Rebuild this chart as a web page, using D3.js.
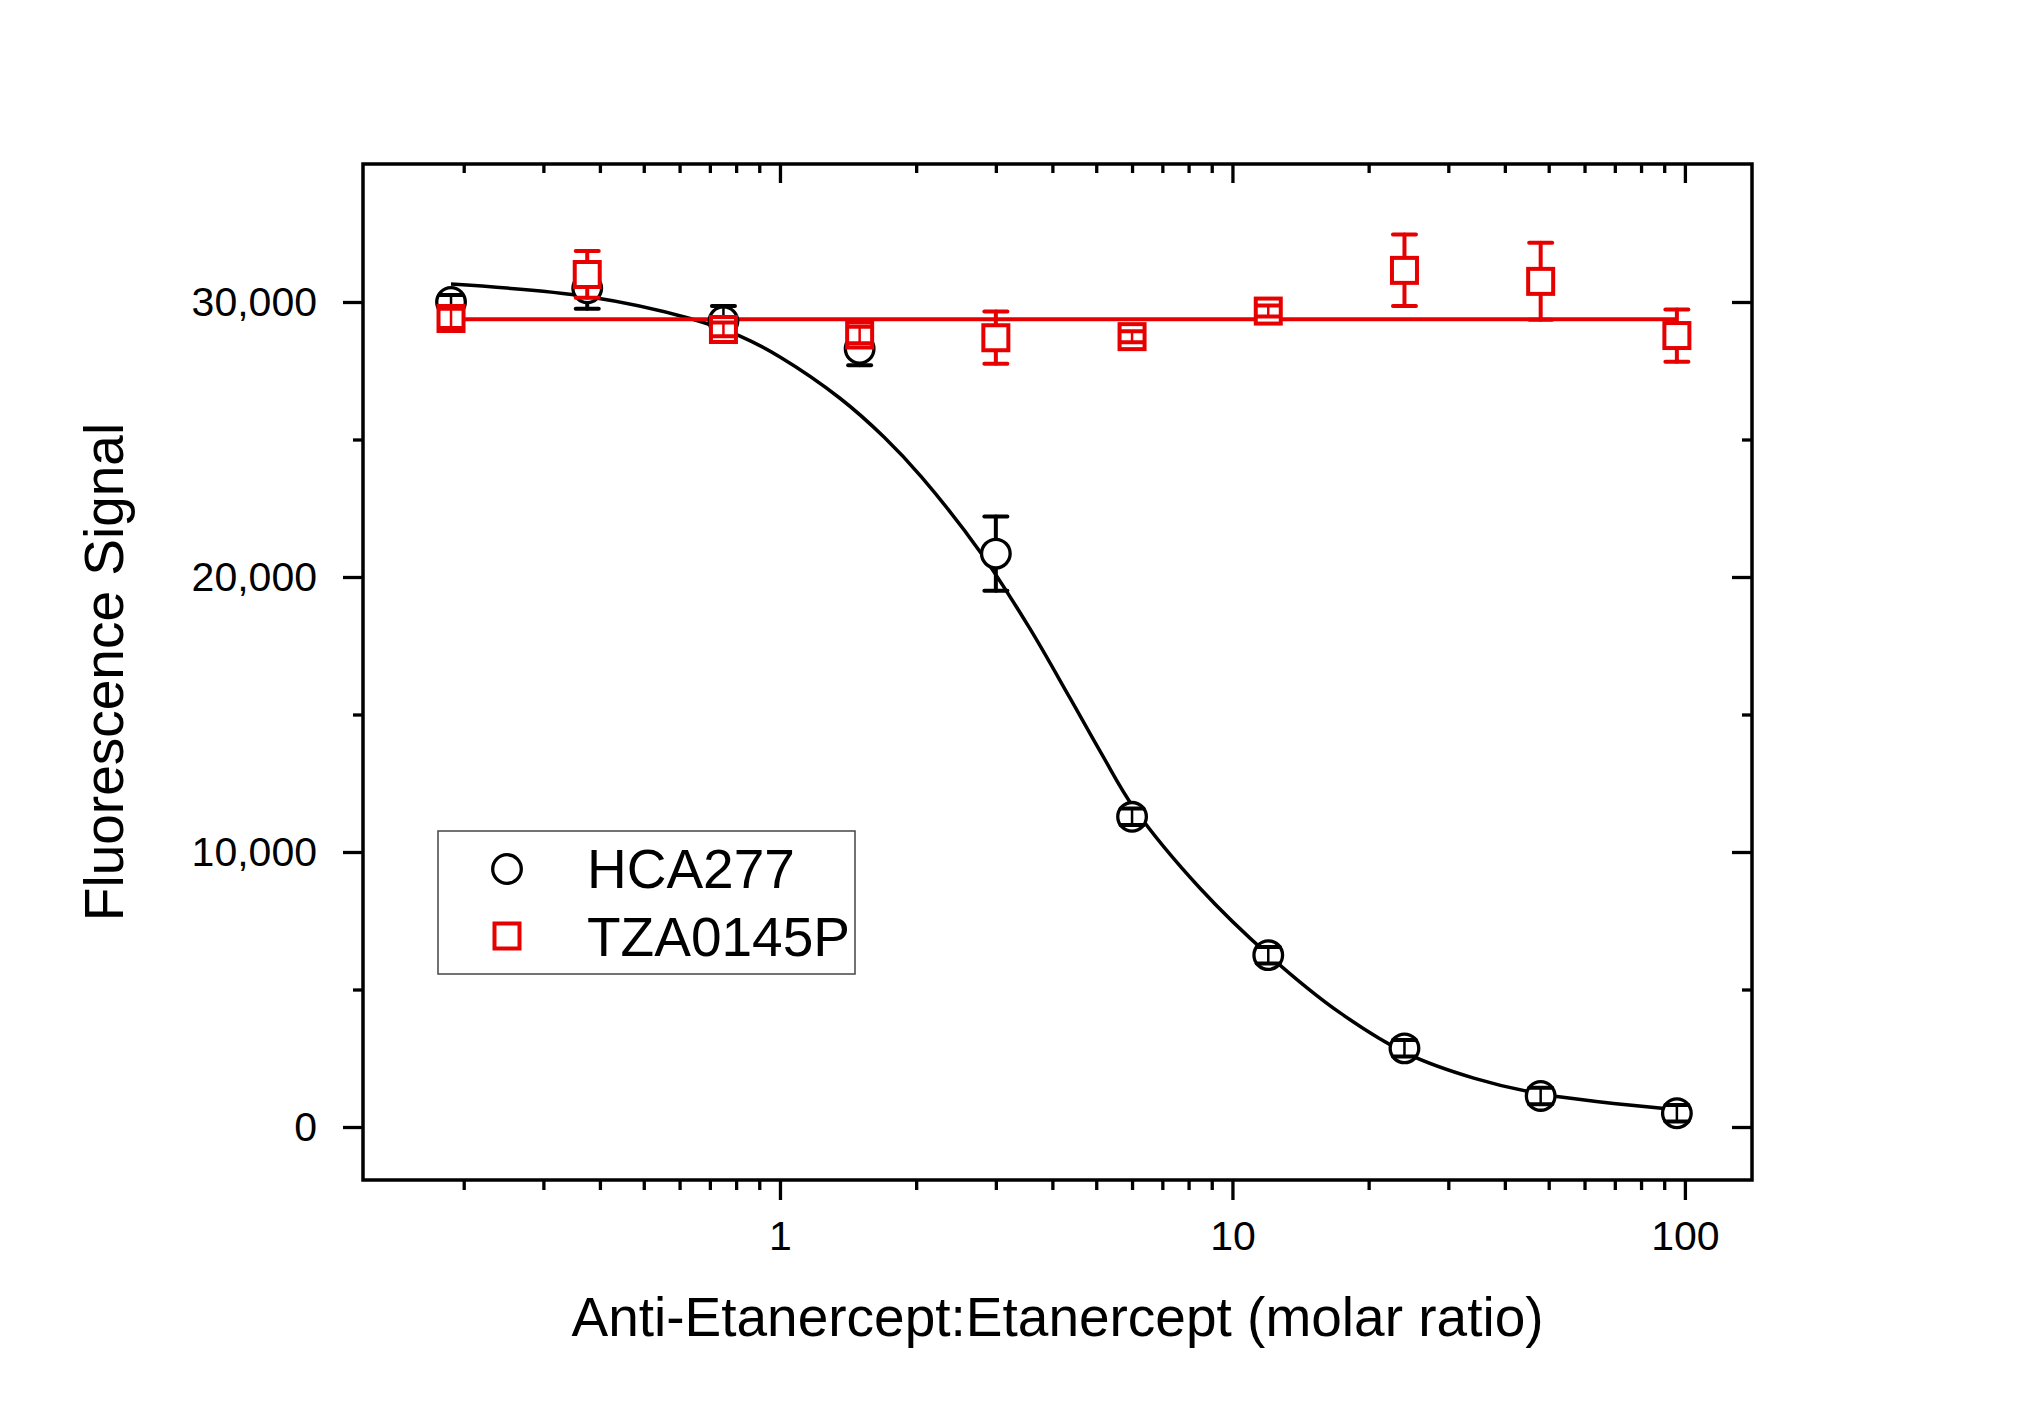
<!DOCTYPE html>
<html>
<head>
<meta charset="utf-8">
<script src="https://cdn.jsdelivr.net/npm/d3@7"></script>
<style>
  body { margin: 0; background: #fff; }
  text { font-family: "Liberation Sans", Arial, sans-serif; fill: #000; }
</style>
</head>
<body>
<div id="chart-area"></div>
<script>
// molar ratios (2-fold dilution series)
var ratios = [0.1875, 0.375, 0.75, 1.5, 3, 6, 12, 24, 48, 96];

// HCA277 (black circles)
var hcaMean = [30000, 30500, 29300, 28300, 20850, 11280, 6250, 2860, 1130, 500];
var hcaErr  = [250, 750, 550, 600, 1350, 300, 300, 300, 300, 300];

// TZA0145P (red squares)
var tzaMean = [29400, 31000, 29000, 28800, 28700, 28740, 29670, 31150, 30750, 28780];
var tzaErr  = [350, 850, 250, 300, 950, 200, 200, 1300, 1400, 950];

// fitted curve for HCA277
var fitX = [0.1875, 0.375, 0.633, 0.816, 1.0, 1.357, 1.7, 2.056, 2.791, 3.568, 4.37, 5.15, 6.06, 8.47, 12.1, 17.3, 24.4, 34.3, 49.0, 96];
var fitY = [30650, 30200, 29400, 28760, 28000, 26500, 25080, 23630, 20840, 18120, 15610, 13540, 11600, 8690, 6210, 4150, 2660, 1770, 1180, 630];

// flat fit line for TZA0145P
var tzaFitLevel = 29370;

var yMajor = [0, 10000, 20000, 30000];
var yMinor = [5000, 15000, 25000];
var xMajor = [1, 10, 100];
var xMinor = [0.2, 0.3, 0.4, 0.5, 0.6, 0.7, 0.8, 0.9, 2, 3, 4, 5, 6, 7, 8, 9, 20, 30, 40, 50, 60, 70, 80, 90];

var seriesNames = ["HCA277", "TZA0145P"];

var margin = {top: 164, right: 282, bottom: 237, left: 363};
var width = 2034 - margin.left - margin.right;
var height = 1417 - margin.top - margin.bottom;
var red = "#e60000";

var svg = d3.select("#chart-area")
    .append("svg")
    .attr("width", 2034)
    .attr("height", 1417);

var g = svg.append("g")
    .attr("transform", "translate(" + margin.left + ", " + margin.top + ")");

var x = d3.scaleLog()
    .domain([0.1198, 140.7])
    .range([0, width]);

var y = d3.scaleLinear()
    .domain([-1927, 35018])
    .range([height, 0]);

function styleAxis(sel) {
    sel.select(".domain").remove();
    sel.selectAll("line").attr("stroke", "#000").attr("stroke-width", 3.3);
    sel.selectAll("text")
        .attr("font-size", "41px")
        .attr("font-family", "Liberation Sans, Arial, sans-serif")
        .style("fill", "#000");
}

// left axis (outward ticks, labelled)
g.append("g")
    .call(d3.axisLeft(y).tickValues(yMajor).tickSize(20).tickPadding(26).tickFormat(d3.format(",")))
    .call(styleAxis);
g.append("g")
    .call(d3.axisLeft(y).tickValues(yMinor).tickSize(10).tickFormat(""))
    .call(styleAxis);

// right axis (inward ticks)
g.append("g")
    .attr("transform", "translate(" + width + ",0)")
    .call(d3.axisRight(y).tickValues(yMajor).tickSize(-20).tickFormat(""))
    .call(styleAxis);
g.append("g")
    .attr("transform", "translate(" + width + ",0)")
    .call(d3.axisRight(y).tickValues(yMinor).tickSize(-10).tickFormat(""))
    .call(styleAxis);

// bottom axis (outward ticks, labelled)
g.append("g")
    .attr("transform", "translate(0, " + height + ")")
    .call(d3.axisBottom(x).tickValues(xMajor).tickSize(20).tickPadding(21).tickFormat(d3.format("d")))
    .call(styleAxis);
g.append("g")
    .attr("transform", "translate(0, " + height + ")")
    .call(d3.axisBottom(x).tickValues(xMinor).tickSize(10).tickFormat(""))
    .call(styleAxis);

// top axis (inward ticks)
g.append("g")
    .call(d3.axisTop(x).tickValues(xMajor).tickSize(-19).tickFormat(""))
    .call(styleAxis);
g.append("g")
    .call(d3.axisTop(x).tickValues(xMinor).tickSize(-9).tickFormat(""))
    .call(styleAxis);

// frame
g.append("rect")
    .attr("width", width)
    .attr("height", height)
    .attr("fill", "none")
    .attr("stroke", "#000")
    .attr("stroke-width", 3.5);

// axis titles
g.append("text")
    .attr("x", width / 2)
    .attr("y", 1336 - margin.top)
    .attr("font-size", "55px")
    .attr("text-anchor", "middle")
    .text("Anti-Etanercept:Etanercept (molar ratio)");

g.append("text")
    .attr("x", -(height / 2))
    .attr("y", 123 - margin.left)
    .attr("font-size", "55px")
    .attr("text-anchor", "middle")
    .attr("transform", "rotate(-90)")
    .text("Fluorescence Signal");

// fit lines
var fitData = fitX.map((d, i) => ({x: d, y: fitY[i]}));
var line = d3.line()
    .x((d) => x(d.x))
    .y((d) => y(d.y))
    .curve(d3.curveCatmullRom.alpha(0.5));

g.append("path")
    .datum(fitData)
    .attr("d", line)
    .attr("fill", "none")
    .attr("stroke", "#000")
    .attr("stroke-width", 3.5);

g.append("path")
    .datum([{x: ratios[0], y: tzaFitLevel}, {x: ratios[ratios.length - 1], y: tzaFitLevel}])
    .attr("d", line)
    .attr("fill", "none")
    .attr("stroke", red)
    .attr("stroke-width", 4);

var rCircle = 14.3;
var halfSquare = 12.5;
var capHalf = 11.5;

function drawSeries(means, errs, color, shape, edge, sw) {
    var data = ratios.map((d, i) => ({x: d, y: means[i], e: errs[i]}));
    var grp = g.append("g");

    // markers
    if (shape === "circle") {
        grp.selectAll("circle").data(data).enter().append("circle")
            .attr("cx", (d) => x(d.x))
            .attr("cy", (d) => y(d.y))
            .attr("r", rCircle)
            .attr("fill", "#fff")
            .attr("stroke", color)
            .attr("stroke-width", sw);
    } else {
        grp.selectAll("rect").data(data).enter().append("rect")
            .attr("x", (d) => x(d.x) - halfSquare)
            .attr("y", (d) => y(d.y) - halfSquare)
            .attr("width", halfSquare * 2)
            .attr("height", halfSquare * 2)
            .attr("fill", "#fff")
            .attr("stroke", color)
            .attr("stroke-width", sw);
    }

    // error bars, starting at the marker edge
    data.forEach((d) => {
        var cx = x(d.x), cy = y(d.y);
        var top = y(d.y + d.e), bot = y(d.y - d.e);
        var eb = grp.append("g")
            .attr("stroke", color)
            .attr("stroke-width", 4)
            .attr("stroke-linecap", "round");
        if (cy - top > edge) {
            eb.append("line").attr("x1", cx).attr("x2", cx).attr("y1", top).attr("y2", cy - edge);
            eb.append("line").attr("x1", cx).attr("x2", cx).attr("y1", bot).attr("y2", cy + edge);
        } else {
            eb.append("line").attr("x1", cx).attr("x2", cx).attr("y1", top).attr("y2", bot)
                .attr("stroke-width", 2.5);
        }
        eb.append("line").attr("x1", cx - capHalf).attr("x2", cx + capHalf).attr("y1", top).attr("y2", top);
        eb.append("line").attr("x1", cx - capHalf).attr("x2", cx + capHalf).attr("y1", bot).attr("y2", bot);
    });
}

drawSeries(hcaMean, hcaErr, "#000", "circle", rCircle + 1.5, 3.3);
drawSeries(tzaMean, tzaErr, red, "square", halfSquare + 2, 4);

// legend
var legend = svg.append("g");
legend.append("rect")
    .attr("x", 438)
    .attr("y", 831)
    .attr("width", 417)
    .attr("height", 143)
    .attr("fill", "#fff")
    .attr("stroke", "#444")
    .attr("stroke-width", 1.5);

legend.append("circle")
    .attr("cx", 507).attr("cy", 869).attr("r", rCircle)
    .attr("fill", "none").attr("stroke", "#000").attr("stroke-width", 3.3);
legend.append("rect")
    .attr("x", 507 - halfSquare).attr("y", 936 - halfSquare)
    .attr("width", halfSquare * 2).attr("height", halfSquare * 2)
    .attr("fill", "none").attr("stroke", red).attr("stroke-width", 4);

legend.selectAll("text.lbl").data(seriesNames).enter().append("text")
    .attr("class", "lbl")
    .attr("x", 587)
    .attr("y", (d, i) => i === 0 ? 888 : 956)
    .attr("font-size", "55px")
    .text((d) => d);
</script>
</body>
</html>
